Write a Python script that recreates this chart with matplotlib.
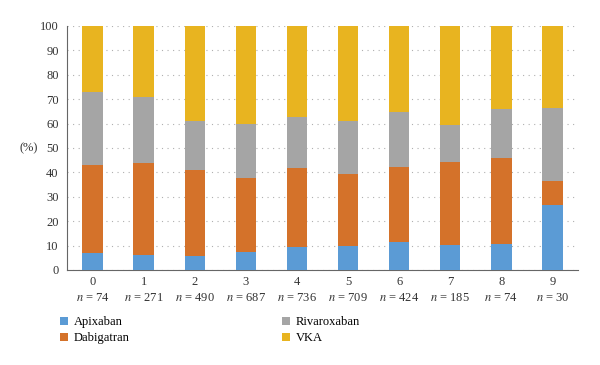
import matplotlib.pyplot as plt
import numpy as np

groups = ["0", "1", "2", "3", "4", "5", "6", "7", "8", "9"]
counts = [74, 271, 490, 687, 736, 709, 424, 185, 74, 30]

# cumulative tops -> per-drug shares (%)
apixaban = [6.8, 6.1, 5.7, 7.2, 9.3, 10.0, 11.3, 10.2, 10.8, 26.5]
dabigatran = [36.4, 37.8, 35.3, 30.6, 32.6, 29.5, 31.0, 34.1, 35.0, 10.0]
rivaroxaban = [29.8, 27.1, 20.1, 22.2, 20.9, 21.6, 22.5, 15.1, 20.2, 30.0]
vka = [27.0, 29.0, 38.9, 40.0, 37.2, 38.9, 35.2, 40.6, 34.0, 33.5]

names = ["Apixaban", "Dabigatran", "Rivaroxaban", "VKA"]
colors = ["#5b9bd5", "#d4722a", "#a5a5a5", "#e8b420"]

plt.rcParams['font.family'] = ['Liberation Serif', 'DejaVu Serif']
plt.rcParams['mathtext.fontset'] = 'stix'

fig = plt.figure(figsize=(6, 3.65), dpi=100)
ax = fig.add_axes([67/600, 1 - 270/365, 511/600, 244/365])

x = np.arange(len(groups))
bottom = np.zeros(len(groups))
bars = []
for vals, name, c in zip([apixaban, dabigatran, rivaroxaban, vka], names, colors):
    b = ax.bar(x, vals, 0.4, bottom=bottom, color=c, label=name, zorder=3)
    bars.append(b)
    bottom += np.array(vals)

ax.set_xlim(-0.5, 9.5)
ax.set_ylim(0, 100)
ax.set_yticks(range(0, 101, 10))
ax.yaxis.grid(True, linestyle=(0, (1, 4)), color="#b0b0b0", linewidth=0.8, zorder=0)
ax.tick_params(axis='both', length=0, labelsize=9, colors="#333333")
ax.tick_params(axis='y', pad=6)
ax.set_xticks(x)
ax.set_xticklabels(["%s\n$n$ = %d" % (g, n) for g, n in zip(groups, counts)],
                   linespacing=1.5)
ax.tick_params(axis='x', pad=4)
for s in ["top", "right"]:
    ax.spines[s].set_visible(False)
ax.spines["left"].set_color("#666666")
ax.spines["bottom"].set_color("#666666")

fig.text(29/600, 1 - 148/365, "(%)", fontsize=9, color="#333333", ha="center", va="center")

leg = fig.legend(handles=bars, labels=names, ncol=2, loc="upper left",
                 bbox_to_anchor=(49/600, 1 - 305/365), frameon=False,
                 fontsize=9, handlelength=0.6, handleheight=0.6,
                 handletextpad=0.5, columnspacing=12.2, labelspacing=0.3)

fig.savefig("out.png", dpi=100)
